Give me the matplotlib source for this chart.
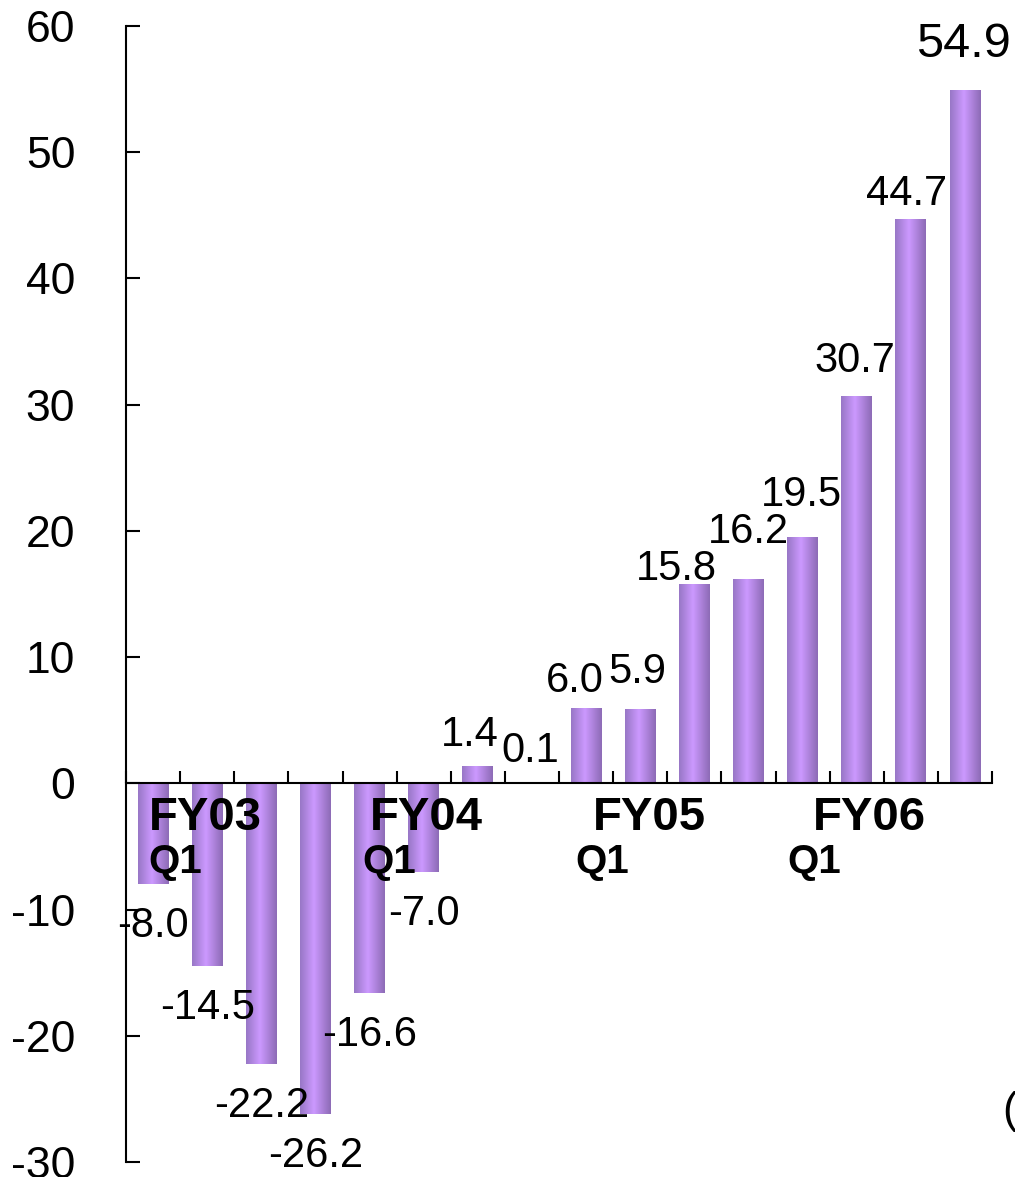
import numpy as np
import matplotlib
matplotlib.use("Agg")
import matplotlib.pyplot as plt
from matplotlib.colors import LinearSegmentedColormap

# quarterly values, FY03 Q1 .. FY06 Q4
values = [-8.0, -14.5, -22.2, -26.2, -16.6, -7.0, 1.4, 0.1,
          6.0, 5.9, 15.8, 16.2, 19.5, 30.7, 44.7, 54.9]
labels = [f"{v:.1f}" for v in values]
years = ["FY03", "FY04", "FY05", "FY06"]
year_start = [0, 4, 8, 12]
yticks = [-30, -20, -10, 0, 10, 20, 30, 40, 50, 60]

# label nudges in pixels (dx, gap above bar top) for positive bars
POS_NUDGE = {6: (-8, 20), 7: (-2, 20), 8: (-11, 16), 9: (-3, 26), 10: (-18, 4),
             11: (0, 36), 12: (-1, 31), 13: (-2, 24), 14: (-4, 14), 15: (-2, 33)}
FY_DX = [-4.5, 0.7, 7, 10]
Q1_DX = [-4.5, -7, -11, -15]
PX = 0.72  # px -> pt at dpi 100

plt.rcParams.update({"font.family": ["Liberation Sans", "DejaVu Sans"]})
cmap = LinearSegmentedColormap.from_list(
    "cyl", [(0, "#9877c6"), (0.45, "#cc99ff"), (1, "#8d6bb6")])

fig = plt.figure(figsize=(10.15, 11.77), dpi=100)
ax = fig.add_axes([0.12414, 0.012744, 0.8532, 0.96517])

x = np.arange(len(values))
bars = ax.bar(x, values, width=0.57, color="none", edgecolor="none")
grad = np.linspace(0, 1, 64).reshape(1, -1)
for b in bars:
    x0, y0 = b.get_x(), b.get_y()
    x1, y1 = x0 + b.get_width(), y0 + b.get_height()
    im = ax.imshow(grad, cmap=cmap, aspect="auto", extent=(x0, x1, min(y0, y1), max(y0, y1)),
                   zorder=2, interpolation="bicubic")
    im.set_clip_path(b)

ax.set_xlim(-0.5, 15.5)
ax.set_ylim(-30, 60)

for i, (v, s) in enumerate(zip(values, labels)):
    if v < 0:
        ax.annotate(s, (i, v), xytext=(0, -53 * PX), textcoords="offset points",
                    ha="center", va="baseline", fontsize=30, zorder=4)
    else:
        dx, gap = POS_NUDGE[i]
        ax.annotate(s, (i, v), xytext=(dx * PX, gap * PX), textcoords="offset points",
                    ha="center", va="baseline", fontsize=35 if i == 15 else 30, zorder=4)

for k, (yr, i) in enumerate(zip(years, year_start)):
    ax.annotate(yr, (i, 0), xytext=(FY_DX[k] * PX, -47 * PX), textcoords="offset points",
                ha="left", va="baseline", fontsize=34, fontweight="bold", zorder=5)
    ax.annotate("Q1", (i, 0), xytext=(Q1_DX[k] * PX, -90 * PX), textcoords="offset points",
                ha="left", va="baseline", fontsize=29, fontweight="bold", zorder=5)

ax.spines["top"].set_visible(False)
ax.spines["right"].set_visible(False)
ax.spines["bottom"].set_position(("data", 0))
for sp in ("left", "bottom"):
    ax.spines[sp].set_linewidth(1.5)
    ax.spines[sp].set_zorder(3)

ax.set_yticks(yticks)
ax.set_yticklabels([str(t) for t in yticks])
ax.set_xticks(np.arange(-0.5, 16, 1.0))
ax.set_xticklabels([])
ax.tick_params(axis="y", direction="in", length=10, width=1.5, pad=36.5, labelsize=32)
ax.tick_params(axis="x", direction="in", length=9, width=1.5)

fig.text(1002 / 1015, 1 - 1112 / 1177, "(%)", fontsize=32, ha="left", va="center")

fig.savefig("out.png", dpi=100)
